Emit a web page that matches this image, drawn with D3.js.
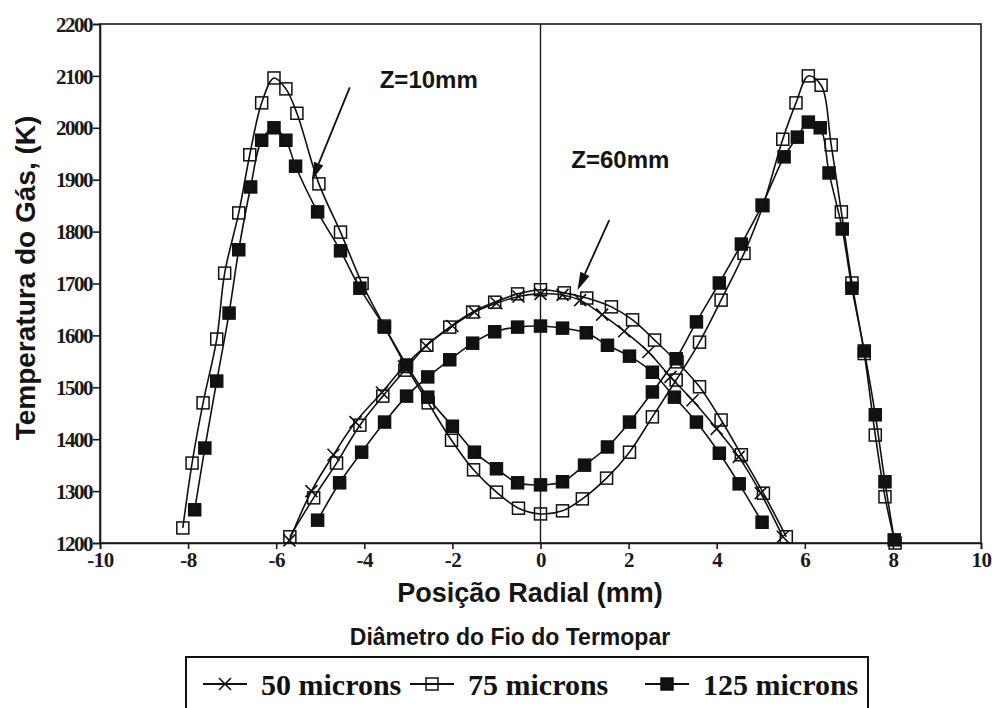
<!DOCTYPE html>
<html lang="pt">
<head>
	<meta charset="utf-8">
	<title>Temperatura do Gás</title>
	<script src="https://cdn.jsdelivr.net/npm/d3@7"></script>
	<style>
		body { margin: 0; background: #fff; }
		.tick text { font-family: "Liberation Serif", "Times New Roman", serif; font-weight: bold; font-size: 21px; fill: #1a1a1a; }
		.axistitle { font-family: "Liberation Sans", Arial, sans-serif; font-weight: bold; fill: #141414; }
		.legtext { font-family: "Liberation Serif", "Times New Roman", serif; font-weight: bold; font-size: 30px; fill: #111; }
	</style>
</head>
<body>
	<script>
		var w = 992;
		var h = 708;

		// series: [radial position (mm), temperature (K)]
		var z10_75 = [[-8.12,1229],[-7.91,1354],[-7.66,1470],[-7.35,1593],[-7.17,1720],[-6.85,1836],[-6.60,1948],[-6.33,2048],[-6.05,2096],[-5.78,2075],[-5.53,2028],[-5.03,1892],[-4.54,1799],[-4.05,1700],[-3.55,1618],[-3.05,1540],[-2.55,1470],[-2.02,1398],[-1.52,1341],[-1.0,1298],[-0.5,1267],[0,1256],[0.5,1262],[0.95,1285],[1.5,1325],[2.02,1375],[2.54,1443],[3.08,1514],[3.61,1587],[4.10,1668],[4.62,1758],[5.05,1850],[5.5,1978],[5.8,2048],[6.08,2100],[6.37,2082],[6.6,1967],[6.83,1838],[7.07,1701],[7.35,1565],[7.6,1408],[7.82,1289],[8.05,1200]];
		var z10_125 = [[-7.85,1264],[-7.62,1383],[-7.35,1512],[-7.07,1643],[-6.85,1765],[-6.58,1886],[-6.33,1976],[-6.05,2000],[-5.78,1976],[-5.56,1926],[-5.06,1838],[-4.54,1763],[-4.10,1691],[-3.54,1616],[-3.04,1543],[-2.56,1481],[-2.0,1425],[-1.5,1375],[-1.0,1343],[-0.52,1316],[0,1312],[0.5,1318],[1.0,1350],[1.52,1385],[2.02,1433],[2.54,1491],[3.08,1555],[3.54,1626],[4.06,1701],[4.56,1776],[5.03,1851],[5.53,1944],[5.83,1982],[6.08,2011],[6.35,2000],[6.55,1913],[6.85,1805],[7.07,1691],[7.35,1570],[7.6,1447],[7.82,1318],[8.03,1206]];
		var z60_50 = [[-5.7,1205],[-5.2,1300],[-4.7,1370],[-4.2,1433],[-3.6,1490],[-3.1,1540],[-2.6,1580],[-2.0,1618],[-1.5,1645],[-1.0,1662],[-0.5,1675],[0,1680],[0.5,1678],[0.9,1668],[1.4,1640],[1.9,1608],[2.45,1568],[2.95,1520],[3.45,1475],[4.0,1420],[4.5,1366],[5.0,1296],[5.5,1212]];
		var z60_75 = [[-5.69,1212],[-5.15,1287],[-4.63,1354],[-4.10,1427],[-3.58,1483],[-3.08,1533],[-2.58,1581],[-2.06,1616],[-1.54,1645],[-1.04,1664],[-0.52,1680],[0,1688],[0.54,1682],[1.05,1672],[1.61,1655],[2.09,1630],[2.59,1591],[3.1,1549],[3.61,1501],[4.10,1437],[4.56,1370],[5.06,1296],[5.58,1212]];
		var z60_125 = [[-5.06,1244],[-4.56,1316],[-4.06,1375],[-3.54,1433],[-3.04,1483],[-2.56,1520],[-2.06,1553],[-1.54,1585],[-1.04,1607],[-0.52,1616],[0,1618],[0.5,1614],[1.04,1605],[1.52,1581],[2.02,1560],[2.54,1529],[3.04,1481],[3.54,1433],[4.06,1373],[4.51,1314],[5.03,1240]];

		var xTicks = [-10, -8, -6, -4, -2, 0, 2, 4, 6, 8, 10];
		var yTicks = [1200, 1300, 1400, 1500, 1600, 1700, 1800, 1900, 2000, 2100, 2200];
		var legendNames = ["50 microns", "75 microns", "125 microns"];
		var legendMarks = ["cross", "open", "filled"];
		// annotation arrows: [label, label pos, arrow tail, arrow head] in data units
		var notes = [
			["Z=10mm", [-3.65, 2077], [-4.33, 2078], [-5.19, 1899]],
			["Z=60mm", [0.70, 1922], [1.56, 1822], [0.84, 1687]]
		];

		var m = { left: 100, right: 981, top: 24, bottom: 543 };

		var x = d3.scaleLinear().domain([-10, 10]).range([m.left, m.right]);
		var y = d3.scaleLinear().domain([1200, 2200]).range([m.bottom, m.top]);

		var svg = d3.select("body").append("svg")
			.attr("width", w).attr("height", h);

		svg.append("rect").attr("width", w).attr("height", h).attr("fill", "white");

		// frame + centre line
		svg.append("rect")
			.attr("x", m.left).attr("y", m.top)
			.attr("width", m.right - m.left).attr("height", m.bottom - m.top)
			.attr("fill", "none").attr("stroke", "#1a1a1a").attr("stroke-width", 1.6);
		svg.append("line")
			.attr("x1", x(0)).attr("x2", x(0)).attr("y1", m.top).attr("y2", m.bottom)
			.attr("stroke", "#1a1a1a").attr("stroke-width", 1.4);

		// axes (plain hyphen for negatives, like the original)
		var fmt = function(d) { return String(d); };
		var xAxis = svg.append("g")
			.attr("transform", "translate(0," + m.bottom + ")")
			.call(d3.axisBottom(x).tickValues(xTicks).tickSize(6).tickPadding(3).tickFormat(fmt));
		var yAxis = svg.append("g")
			.attr("transform", "translate(" + m.left + ",0)")
			.call(d3.axisLeft(y).tickValues(yTicks).tickSize(7).tickPadding(1).tickFormat(fmt));
		svg.selectAll(".domain").attr("stroke", "#1a1a1a").attr("stroke-width", 1.6);
		svg.selectAll(".tick line").attr("stroke", "#1a1a1a").attr("stroke-width", 1.6);
		yAxis.selectAll(".tick text").attr("letter-spacing", "-1.5px").attr("dy", "0.34em");
		xAxis.selectAll(".tick text").attr("letter-spacing", "-0.5px");

		// curves
		var line = d3.line()
			.x(function(d) { return x(d[0]); })
			.y(function(d) { return y(d[1]); })
			.curve(d3.curveCatmullRom.alpha(0.5));

		var series = [
			{ data: z10_75, mark: "open" },
			{ data: z60_125, mark: "filled" },
			{ data: z10_125, mark: "filled" },
			{ data: z60_75, mark: "open" },
			{ data: z60_50, mark: "cross" }
		];

		var plot = svg.append("g");

		series.forEach(function(s) {
			plot.append("path")
				.datum(s.data)
				.attr("d", line)
				.attr("fill", "none")
				.attr("stroke", "#111")
				.attr("stroke-width", 1.6);
		});

		var drawMark = function(g, kind, cx, cy) {
			if (kind === "cross") {
				g.append("path")
					.attr("d", "M" + (cx - 6) + "," + (cy - 6) + "L" + (cx + 6) + "," + (cy + 6) +
						"M" + (cx - 6) + "," + (cy + 6) + "L" + (cx + 6) + "," + (cy - 6))
					.attr("stroke", "#111").attr("stroke-width", 1.6);
			} else {
				g.append("rect")
					.attr("x", cx - 6).attr("y", cy - 6)
					.attr("width", 12).attr("height", 12)
					.attr("fill", kind === "filled" ? "#111" : "none")
					.attr("stroke", "#111").attr("stroke-width", 1.5);
			}
		};

		series.forEach(function(s) {
			s.data.forEach(function(d) { drawMark(plot, s.mark, x(d[0]), y(d[1])); });
		});

		// annotations
		notes.forEach(function(n) {
			var x1 = x(n[2][0]), y1 = y(n[2][1]), x2 = x(n[3][0]), y2 = y(n[3][1]);
			var ang = Math.atan2(y2 - y1, x2 - x1);
			var len = 18, half = 5;
			var bx = x2 - len * Math.cos(ang), by = y2 - len * Math.sin(ang);
			svg.append("line")
				.attr("x1", x1).attr("y1", y1).attr("x2", bx).attr("y2", by)
				.attr("stroke", "#111").attr("stroke-width", 1.8);
			svg.append("path")
				.attr("d", "M" + x2 + "," + y2 +
					"L" + (bx + half * Math.sin(ang)) + "," + (by - half * Math.cos(ang)) +
					"L" + (bx - half * Math.sin(ang)) + "," + (by + half * Math.cos(ang)) + "Z")
				.attr("fill", "#111");
			svg.append("text")
				.attr("class", "axistitle")
				.attr("x", x(n[1][0])).attr("y", y(n[1][1]))
				.style("font-size", "24px")
				.text(n[0]);
		});

		// axis titles
		svg.append("text")
			.attr("class", "axistitle")
			.attr("x", 530).attr("y", 602)
			.attr("text-anchor", "middle")
			.style("font-size", "27px")
			.text("Posição Radial (mm)");
		svg.append("text")
			.attr("class", "axistitle")
			.attr("transform", "translate(35," + 278 + ") rotate(-90)")
			.attr("text-anchor", "middle")
			.style("font-size", "28px")
			.text("Temperatura do Gás, (K)");

		// legend
		svg.append("text")
			.attr("class", "axistitle")
			.attr("x", 510).attr("y", 645)
			.attr("text-anchor", "middle")
			.style("font-size", "23px")
			.text("Diâmetro do Fio do Termopar");

		svg.append("rect")
			.attr("x", 186).attr("y", 657).attr("width", 682).attr("height", 80)
			.attr("fill", "none").attr("stroke", "#111").attr("stroke-width", 2);

		var legX = [203, 410, 645];
		var leg = svg.append("g");
		legendNames.forEach(function(name, i) {
			var x0 = legX[i];
			leg.append("line")
				.attr("x1", x0).attr("x2", x0 + 44).attr("y1", 684).attr("y2", 684)
				.attr("stroke", "#111").attr("stroke-width", 1.8);
			drawMark(leg, legendMarks[i], x0 + 22, 684);
			leg.append("text")
				.attr("class", "legtext")
				.attr("x", x0 + 58).attr("y", 695)
				.text(name);
		});
	</script>
</body>
</html>
